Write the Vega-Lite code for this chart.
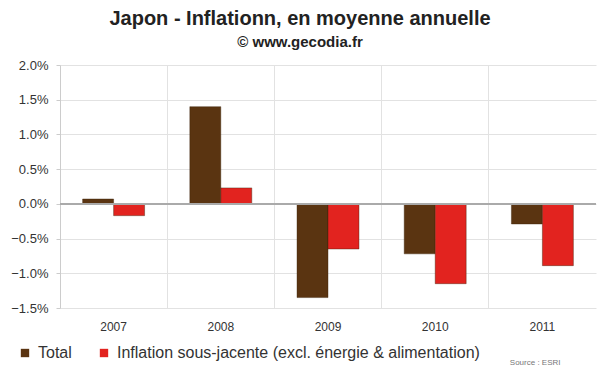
{
  "$schema": "https://vega.github.io/schema/vega-lite/v6.json",
  "width": 536,
  "height": 243,
  "autosize": {"type": "none"},
  "padding": {"left": 60, "top": 65, "right": 4, "bottom": 64},
  "background": "white",
  "config": {
    "font": "Liberation Sans",
    "view": {"stroke": null}
  },
  "title": {
    "text": "Japon - Inflationn, en moyenne annuelle",
    "subtitle": "© www.gecodia.fr",
    "anchor": "middle",
    "dx": -28,
    "offset": 9,
    "fontSize": 20,
    "fontWeight": "bold",
    "color": "#222222",
    "subtitleFontSize": 15,
    "subtitleFontWeight": "bold",
    "subtitleColor": "#222222",
    "subtitlePadding": 6
  },
  "data": {
    "values": [
      {"annee": "2007", "serie": "Total", "valeur": 0.0007},
      {"annee": "2007", "serie": "Inflation sous-jacente (excl. énergie & alimentation)", "valeur": -0.0017},
      {"annee": "2008", "serie": "Total", "valeur": 0.014},
      {"annee": "2008", "serie": "Inflation sous-jacente (excl. énergie & alimentation)", "valeur": 0.0023},
      {"annee": "2009", "serie": "Total", "valeur": -0.0135},
      {"annee": "2009", "serie": "Inflation sous-jacente (excl. énergie & alimentation)", "valeur": -0.0065},
      {"annee": "2010", "serie": "Total", "valeur": -0.0072},
      {"annee": "2010", "serie": "Inflation sous-jacente (excl. énergie & alimentation)", "valeur": -0.0115},
      {"annee": "2011", "serie": "Total", "valeur": -0.0029},
      {"annee": "2011", "serie": "Inflation sous-jacente (excl. énergie & alimentation)", "valeur": -0.0089}
    ]
  },
  "layer": [
    {
      "mark": {"type": "bar", "strokeWidth": 1, "stroke": "#3a2008", "strokeOpacity": 0.4},
      "encoding": {
        "x": {
          "field": "annee",
          "type": "nominal",
          "scale": {"paddingInner": 0, "paddingOuter": 0},
          "axis": {
            "title": "Source : ESRI",
            "titleFontSize": 8,
            "titleFontWeight": "normal",
            "titleColor": "#777777",
            "titleAnchor": "end",
            "titleX": 500,
            "titleY": 50,
            "labelAngle": 0,
            "labelFontSize": 12,
            "labelColor": "#333333",
            "labelPadding": 13,
            "domain": false,
            "ticks": false,
            "grid": true,
            "gridColor": "#e2e2e2",
            "bandPosition": 0
          }
        },
        "xOffset": {
          "field": "serie",
          "type": "nominal",
          "sort": ["Total", "Inflation sous-jacente (excl. énergie & alimentation)"],
          "scale": {"paddingInner": 0, "paddingOuter": 0.73}
        },
        "y": {
          "field": "valeur",
          "type": "quantitative",
          "scale": {"domain": [-0.015, 0.02], "nice": false, "zero": false},
          "axis": {
            "title": null,
            "tickCount": 8,
            "format": ".1%",
            "labelOverlap": false,
            "labelFontSize": 13,
            "labelColor": "#333333",
            "labelPadding": 8,
            "domain": true,
            "domainColor": "#cccccc",
            "tickColor": "#cccccc",
            "tickSize": 4,
            "grid": true,
            "gridColor": "#e2e2e2"
          }
        },
        "color": {
          "field": "serie",
          "type": "nominal",
          "sort": ["Total", "Inflation sous-jacente (excl. énergie & alimentation)"],
          "scale": {"range": ["#5a3411", "#e2231f"]},
          "legend": {
            "title": null,
            "orient": "none",
            "legendX": -43,
            "legendY": 280,
            "direction": "horizontal",
            "symbolType": "square",
            "symbolSize": 70,
            "symbolStrokeWidth": 0,
            "labelFontSize": 16,
            "labelColor": "#333333",
            "labelOffset": 5,
            "columnPadding": 24,
            "labelLimit": 450
          }
        }
      }
    },
    {
      "mark": {"type": "rule", "color": "#aaaaaa", "strokeWidth": 1.5},
      "encoding": {"y": {"datum": 0}}
    }
  ]
}
